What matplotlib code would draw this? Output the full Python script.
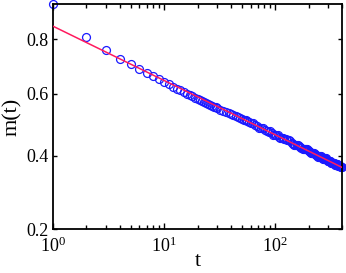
#
# m(t) decay plot, log-log style axes
#

import numpy as np
import matplotlib
matplotlib.use('Agg')
from matplotlib import pyplot as plt
from matplotlib import ticker

# ------------------------------------------------------------------
# data
t_data = [1, 2, 3, 4, 5, 6, 7, 8, 9, 10,
          11, 12, 13, 14, 15, 16, 17, 18, 19, 20,
          21, 22, 23, 24, 25, 26, 27, 28, 29, 30,
          32, 34, 36, 38, 40, 42, 44, 46, 48, 50,
          52, 54, 56, 58, 60,
          63, 66, 69, 72, 75, 78, 81, 84, 87, 90,
          93, 96, 99, 102, 105, 108, 111, 114, 117, 120,
          124, 128, 132, 136, 140, 144, 148, 152, 156, 160,
          164, 168, 172, 176, 180, 184, 188, 192, 196, 200,
          204, 208, 212, 216, 220, 224, 228, 232, 236, 240,
          244, 248, 252, 256, 260, 264, 268, 272, 276, 280,
          284, 288, 292, 296, 300, 304, 308, 312, 316, 320,
          324, 328, 332, 336, 340, 344, 348, 352, 356, 360,
          364, 368, 372, 376, 380, 384, 388, 392, 396]
m_data = [0.944, 0.810, 0.758, 0.725, 0.705, 0.688, 0.673, 0.661, 0.651, 0.641,
          0.633, 0.624, 0.617, 0.611, 0.606, 0.600, 0.595, 0.591, 0.586, 0.582,
          0.578, 0.575, 0.571, 0.568, 0.564, 0.561, 0.558, 0.555, 0.553, 0.550,
          0.545, 0.541, 0.537, 0.533, 0.530, 0.527, 0.524, 0.521, 0.518, 0.515,
          0.512, 0.511, 0.508, 0.506, 0.503,
          0.501, 0.495, 0.493, 0.487, 0.486, 0.486, 0.481, 0.476, 0.474, 0.475,
          0.470, 0.465, 0.464, 0.465, 0.464, 0.459, 0.455, 0.454, 0.455, 0.451,
          0.450, 0.449, 0.447, 0.444, 0.440, 0.437, 0.434, 0.433, 0.433, 0.432,
          0.430, 0.427, 0.423, 0.421, 0.420, 0.420, 0.421, 0.420, 0.418, 0.416,
          0.412, 0.410, 0.409, 0.410, 0.410, 0.409, 0.407, 0.404, 0.401, 0.399,
          0.398, 0.398, 0.399, 0.399, 0.397, 0.394, 0.392, 0.392, 0.393, 0.394,
          0.393, 0.390, 0.387, 0.385, 0.384, 0.385, 0.386, 0.385, 0.382, 0.380,
          0.378, 0.379, 0.380, 0.380, 0.378, 0.376, 0.374, 0.374, 0.375, 0.375,
          0.373, 0.370, 0.370, 0.372, 0.371, 0.369, 0.367, 0.368, 0.367]

# fitted line (end points)
t_fit = [1, 400]
m_fit = [0.853, 0.366]

y_ticks = [0.2, 0.4, 0.6, 0.8]
x_ticks = [1, 10, 100]


# y axis of the original is compressed like log(m + 0.85)
def fwd(y):
    return np.log(np.asarray(y) + 0.85)


def inv(v):
    return np.exp(np.asarray(v)) - 0.85


def draw():
    plt.rcParams['font.family'] = ['Liberation Serif', 'DejaVu Serif']
    plt.rcParams['mathtext.fontset'] = 'stix'

    fig = plt.figure(figsize=(3.46, 2.73), dpi=100)
    ax = fig.add_axes([0.153, 0.161, 0.836, 0.824])

    ax.plot(t_fit, m_fit, color='#ff1a5e', lw=1.1, zorder=3)
    ax.plot(t_data, m_data, 'o', mfc='none', mec='#1a1aff', ms=5.7, mew=0.9,
            clip_on=False, zorder=2)

    ax.set_xscale('log')
    ax.set_yscale('function', functions=(fwd, inv))
    ax.set_xlim(1, 400)
    ax.set_ylim(0.2, 0.945)

    ax.xaxis.set_major_locator(ticker.FixedLocator(x_ticks))
    ax.xaxis.set_major_formatter(ticker.LogFormatterMathtext())
    ax.xaxis.set_minor_locator(ticker.LogLocator(base=10, subs=np.arange(2, 10), numticks=20))
    ax.xaxis.set_minor_formatter(ticker.NullFormatter())
    ax.yaxis.set_major_locator(ticker.FixedLocator(y_ticks))
    ax.yaxis.set_major_formatter(ticker.FormatStrFormatter('%.1f'))
    ax.yaxis.set_minor_locator(ticker.NullLocator())

    ax.tick_params(which='both', direction='in', top=True, right=True,
                   width=1.0, labelsize=13)
    ax.tick_params(axis='x', which='major', length=4.5, pad=5.5)
    ax.tick_params(axis='x', which='minor', length=3)
    ax.tick_params(axis='y', which='major', length=3, pad=3)
    for s in ax.spines.values():
        s.set_linewidth(1.3)

    ax.set_xlabel('t', fontsize=16, labelpad=-3)
    ax.set_ylabel('m(t)', fontsize=16, labelpad=3)

    fig.savefig('out.png', dpi=100)


# MAIN
if __name__ == '__main__':
    draw()
